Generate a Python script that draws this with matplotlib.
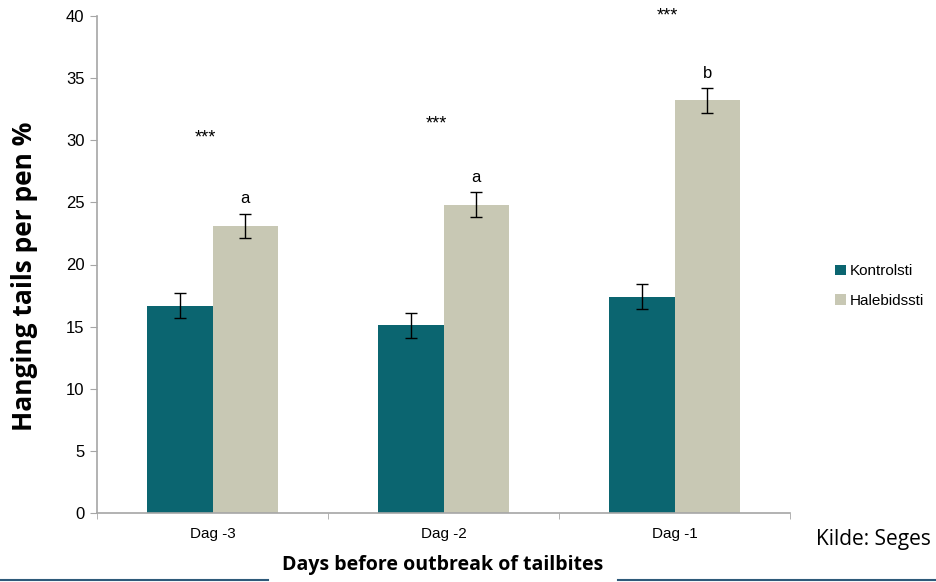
import numpy as np
import matplotlib
matplotlib.use("Agg")
import matplotlib.pyplot as plt
from matplotlib.lines import Line2D

# Data
days = ["Dag -3", "Dag -2", "Dag -1"]
kontrol = [16.7, 15.1, 17.4]
kontrol_err = [1.0, 1.0, 1.0]
hale = [23.1, 24.8, 33.2]
hale_err = [1.0, 1.0, 1.0]
letters = ["a", "a", "b"]
stars = ["***", "***", "***"]
star_y = [30.2, 31.3, 40.0]

teal = "#0B6570"
beige = "#C8C8B4"
grid_gray = "#A6A6A6"

fig = plt.figure(figsize=(9.36, 5.82), dpi=100)
ax = fig.add_axes([97 / 936, 1 - 513 / 582, (790 - 97) / 936, (513 - 16) / 582])

x = np.arange(len(days))
w = 0.285
ax.bar(x - w / 2, kontrol, w, color=teal, label="Kontrolsti")
ax.bar(x + w / 2, hale, w, color=beige, label="Halebidssti")
ax.errorbar(x - w / 2, kontrol, yerr=kontrol_err, fmt="none", ecolor="black",
            elinewidth=1, capsize=4, capthick=1)
ax.errorbar(x + w / 2, hale, yerr=hale_err, fmt="none", ecolor="black",
            elinewidth=1, capsize=4, capthick=1)

for i in range(len(days)):
    ax.text(x[i] + w / 2, hale[i] + hale_err[i] + 1.2, letters[i], ha="center",
            va="center", fontsize=12, family="Liberation Sans")
    ax.text(x[i] - 0.03, star_y[i], stars[i], ha="center", va="center",
            fontsize=13, family="Liberation Sans", clip_on=False)

ax.set_xlim(-0.5, 2.5)
ax.set_ylim(0, 40)
ax.set_yticks(range(0, 41, 5))
ax.set_xticks(x)
ax.set_xticklabels(days, fontsize=11, family="Liberation Sans")
ax.set_xticks([-0.5, 0.5, 1.5, 2.5], minor=True)
ax.tick_params(axis="x", which="major", length=0, pad=10)
ax.tick_params(axis="x", which="minor", length=4, color=grid_gray)
ax.tick_params(axis="y", length=5, color=grid_gray, labelsize=12, pad=4)
for lab in ax.get_yticklabels():
    lab.set_family("Liberation Sans")

for s in ["top", "right"]:
    ax.spines[s].set_visible(False)
for s in ["left", "bottom"]:
    ax.spines[s].set_color(grid_gray)
    ax.spines[s].set_linewidth(1.2)

ax.set_ylabel("Hanging tails per pen %", fontsize=19, fontweight="bold",
              family="Open Sans")
ax.yaxis.set_label_coords(-0.085, 0.477)

fig.text(443 / 936, 1 - 565 / 582, "Days before outbreak of tailbites",
         ha="center", va="center", fontsize=14, fontweight="bold", family="Open Sans")
fig.text(816 / 936, 1 - 540 / 582, "Kilde: Seges", ha="left", va="center",
         fontsize=15, family="Open Sans")

ax.legend(loc="center left", bbox_to_anchor=(1.045, 0.457), frameon=False,
          handlelength=0.7, handleheight=0.7, handletextpad=0.3,
          labelspacing=1.0, prop={"family": "Liberation Sans", "size": 11})

line_color = "#2E5A7A"
fig.add_artist(Line2D([0, 268 / 936], [1 - 580 / 582] * 2, color=line_color, lw=1.5))
fig.add_artist(Line2D([618 / 936, 1], [1 - 580 / 582] * 2, color=line_color, lw=1.5))

fig.savefig("out.png", dpi=100)
